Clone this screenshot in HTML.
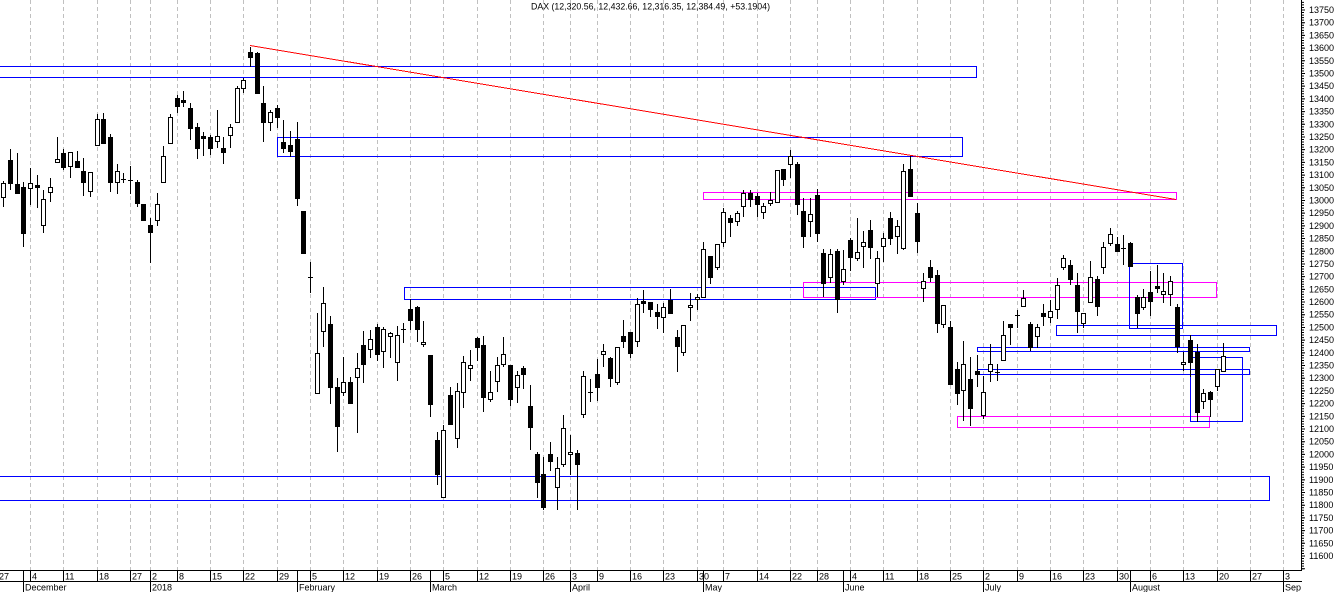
<!DOCTYPE html>
<html><head><meta charset="utf-8"><style>
html,body{margin:0;padding:0;background:#fff;}
svg{display:block;}
text{font-family:"Liberation Sans",Arial,sans-serif;font-size:9px;fill:#000;}
</style></head><body>
<svg width="1336" height="592" viewBox="0 0 1336 592" xmlns="http://www.w3.org/2000/svg">
<rect x="0" y="0" width="1336" height="592" fill="#fff"/>
<!-- gridlines -->
<path d="M30.5 0V570M63.5 0V570M97.5 0V570M130.5 0V570M150.5 0V570M177.5 0V570M210.5 0V570M243.5 0V570M277.5 0V570M310.5 0V570M343.5 0V570M377.5 0V570M410.5 0V570M443.5 0V570M477.5 0V570M510.5 0V570M543.5 0V570M570.5 0V570M597.5 0V570M630.5 0V570M663.5 0V570M697.5 0V570M723.5 0V570M757.5 0V570M790.5 0V570M817.5 0V570M850.5 0V570M883.5 0V570M917.5 0V570M950.5 0V570M983.5 0V570M1017.5 0V570M1050.5 0V570M1083.5 0V570M1117.5 0V570M1150.5 0V570M1183.5 0V570M1217.5 0V570M1250.5 0V570M1283.5 0V570" stroke="#c0c0c0" stroke-width="1" stroke-dasharray="4 3" fill="none"/>
<!-- title -->
<text x="531" y="9.5" textLength="239" lengthAdjust="spacingAndGlyphs">DAX (12,320.56, 12,432.66, 12,316.35, 12,384.49, +53.1904)</text>
<!-- rectangles -->
<g fill="none" stroke-width="1" shape-rendering="crispEdges">
<rect x="-5" y="66.5" width="981.5" height="11" stroke="#0000ff"/>
<rect x="277.5" y="137.5" width="685" height="19" stroke="#0000ff"/>
<rect x="703.5" y="192.5" width="473" height="7" stroke="#ff00ff"/>
<rect x="404.5" y="287.5" width="471" height="12" stroke="#0000ff"/>
<rect x="803.5" y="282.5" width="413" height="15" stroke="#ff00ff"/>
<rect x="1129.5" y="263.5" width="53" height="65" stroke="#0000ff"/>
<rect x="1056.5" y="325.5" width="220" height="10" stroke="#0000ff"/>
<rect x="977.5" y="347.5" width="272" height="4" stroke="#0000ff"/>
<rect x="977.5" y="369.5" width="272" height="5" stroke="#0000ff"/>
<rect x="957.5" y="416.5" width="252" height="11" stroke="#ff00ff"/>
<rect x="1190.5" y="357.5" width="52" height="64" stroke="#0000ff"/>
<rect x="-5" y="476.5" width="1274.5" height="24" stroke="#0000ff"/>
</g>
<!-- wicks -->
<path shape-rendering="crispEdges" stroke="#000" stroke-width="1" fill="none" d="M3.5 181V207M10.5 149V190M17.5 153V193M23.5 182V247M30.5 168V205M37.5 175V208M43.5 190V233M50.5 178V202M57.5 137V163M63.5 149V170M70.5 152V178M77.5 151V168M83.5 158V196M90.5 172V197M97.5 114V145M103.5 113V143M110.5 134V192M117.5 164V194M123.5 173V183M130.5 166V194M137.5 180V207M143.5 204V221M150.5 218V263M157.5 193V226M163.5 146V182M170.5 114V143M177.5 95V113M183.5 91V107M190.5 103V140M197.5 123V159M203.5 132V156M210.5 135V155M217.5 110V148M223.5 137V164M230.5 124V148M237.5 86V122M243.5 78V93M250.5 47V67M257.5 52V93M263.5 86V142M270.5 110V131M277.5 105V128M283.5 120V153M290.5 131V157M297.5 122V206M303.5 211V253M310.5 262V293M317.5 313V393M323.5 287V347M330.5 316V404M337.5 378V452M343.5 357V396M350.5 377V403M357.5 353V433M363.5 331V383M370.5 330V358M377.5 324V361M383.5 327V368M390.5 332V358M397.5 326V381M403.5 323V343M410.5 299V330M417.5 306V342M423.5 321V347M430.5 355V417M437.5 432V485M443.5 425V497M450.5 387V424M457.5 383V448M463.5 356V408M470.5 350V381M477.5 337V361M483.5 336V412M490.5 371V402M497.5 357V392M503.5 337V367M510.5 365V406M517.5 371V403M523.5 366V389M530.5 385V450M537.5 452V498M543.5 457V510M550.5 442V471M557.5 457V510M563.5 415V467M570.5 435V475M577.5 450V510M583.5 371V418M590.5 379V402M597.5 359V401M603.5 344V367M610.5 357V387M617.5 347V385M623.5 320V348M630.5 332V358M637.5 298V347M643.5 290V313M650.5 302V317M657.5 304V329M663.5 303V333M670.5 289V313M677.5 330V372M683.5 325V356M690.5 293V321M697.5 294V310M703.5 242V297M710.5 256V284M717.5 244V270M723.5 208V247M730.5 215V237M737.5 211V226M743.5 190V217M750.5 190V207M757.5 193V217M763.5 203V219M770.5 192V206M777.5 170V202M783.5 169V186M790.5 150V178M797.5 162V215M803.5 198V248M810.5 198V237M817.5 189V242M823.5 249V297M830.5 249V283M837.5 249V313M843.5 250V285M850.5 238V271M857.5 218V261M863.5 231V268M870.5 220V259M877.5 251V297M883.5 233V262M890.5 212V245M897.5 220V254M903.5 164V250M910.5 155V196M917.5 203V253M923.5 273V302M930.5 260V282M937.5 270V333M943.5 305V328M950.5 321V384M957.5 362V405M963.5 341V421M970.5 357V426M977.5 355V387M983.5 376V419M990.5 344V382M997.5 364V381M1003.5 321V360M1010.5 324V345M1017.5 310V328M1023.5 290V306M1030.5 322V351M1037.5 324V348M1043.5 304V326M1050.5 300V323M1057.5 278V319M1063.5 255V270M1070.5 260V285M1077.5 273V333M1083.5 313V328M1090.5 261V303M1097.5 276V316M1103.5 242V274M1110.5 228V246M1117.5 237V251M1123.5 235V265M1130.5 242V266M1137.5 295V328M1143.5 289V310M1150.5 271V316M1157.5 265V293M1163.5 273V303M1170.5 276V306M1177.5 304V353M1183.5 352V371M1190.5 335V377M1197.5 344V422M1203.5 389V409M1210.5 391V417M1217.5 369V391M1223.5 343V372"/>
<!-- white bodies -->
<path shape-rendering="crispEdges" stroke="#000" stroke-width="1" fill="#fff" d="M1.5 183.5h4v14h-4zM28.5 183.5h4v5h-4zM41.5 199.5h4v26h-4zM48.5 187.5h4v5h-4zM55.5 159.5h4v3h-4zM68.5 152.5h4v14h-4zM88.5 172.5h4v19h-4zM95.5 119.5h4v26h-4zM115.5 171.5h4v11h-4zM155.5 204.5h4v16h-4zM161.5 156.5h4v26h-4zM168.5 117.5h4v26h-4zM215.5 136.5h4v5h-4zM228.5 127.5h4v8h-4zM235.5 88.5h4v34h-4zM241.5 80.5h4v8h-4zM268.5 112.5h4v10h-4zM315.5 353.5h4v40h-4zM321.5 303.5h4v28h-4zM341.5 382.5h4v10h-4zM355.5 368.5h4v9h-4zM368.5 339.5h4v10h-4zM381.5 329.5h4v22h-4zM388.5 333.5h4v3h-4zM395.5 335.5h4v27h-4zM421.5 342.5h4v2h-4zM441.5 430.5h4v67h-4zM455.5 391.5h4v47h-4zM461.5 362.5h4v30h-4zM468.5 365.5h4v3h-4zM488.5 392.5h4v7h-4zM495.5 365.5h4v16h-4zM501.5 354.5h4v10h-4zM515.5 375.5h4v12h-4zM555.5 468.5h4v19h-4zM561.5 428.5h4v36h-4zM568.5 452.5h4v2h-4zM581.5 376.5h4v38h-4zM601.5 351.5h4v3h-4zM615.5 347.5h4v35h-4zM635.5 304.5h4v37h-4zM661.5 307.5h4v10h-4zM681.5 325.5h4v27h-4zM688.5 305.5h4v2h-4zM695.5 297.5h4v2h-4zM701.5 249.5h4v48h-4zM715.5 244.5h4v23h-4zM721.5 212.5h4v30h-4zM735.5 213.5h4v8h-4zM741.5 193.5h4v13h-4zM761.5 206.5h4v6h-4zM768.5 200.5h4v3h-4zM775.5 170.5h4v32h-4zM788.5 156.5h4v8h-4zM808.5 214.5h4v7h-4zM828.5 254.5h4v23h-4zM841.5 269.5h4v12h-4zM855.5 252.5h4v6h-4zM861.5 242.5h4v4h-4zM875.5 258.5h4v25h-4zM881.5 238.5h4v8h-4zM895.5 226.5h4v10h-4zM901.5 171.5h4v77h-4zM921.5 281.5h4v7h-4zM941.5 305.5h4v19h-4zM961.5 364.5h4v26h-4zM981.5 392.5h4v23h-4zM988.5 364.5h4v7h-4zM1001.5 335.5h4v25h-4zM1021.5 298.5h4v8h-4zM1035.5 327.5h4v9h-4zM1048.5 311.5h4v6h-4zM1055.5 285.5h4v24h-4zM1061.5 258.5h4v9h-4zM1081.5 313.5h4v10h-4zM1088.5 277.5h4v25h-4zM1101.5 247.5h4v20h-4zM1108.5 234.5h4v9h-4zM1141.5 297.5h4v10h-4zM1161.5 291.5h4v3h-4zM1168.5 281.5h4v13h-4zM1181.5 362.5h4v2h-4zM1201.5 393.5h4v8h-4zM1215.5 369.5h4v17h-4zM1221.5 356.5h4v15h-4z"/>
<!-- black bodies -->
<path shape-rendering="crispEdges" stroke="#000" stroke-width="1" fill="#000" d="M8.5 160.5h4v23h-4zM15.5 184.5h4v9h-4zM21.5 187.5h4v46h-4zM35.5 185.5h4v2h-4zM61.5 153.5h4v14h-4zM75.5 161.5h4v6h-4zM81.5 171.5h4v11h-4zM101.5 119.5h4v24h-4zM108.5 137.5h4v45h-4zM135.5 182.5h4v21h-4zM141.5 204.5h4v16h-4zM148.5 225.5h4v7h-4zM175.5 98.5h4v8h-4zM181.5 100.5h4v2h-4zM188.5 108.5h4v20h-4zM195.5 127.5h4v21h-4zM201.5 136.5h4v2h-4zM208.5 137.5h4v11h-4zM221.5 148.5h4v4h-4zM248.5 52.5h4v5h-4zM255.5 53.5h4v40h-4zM261.5 103.5h4v19h-4zM275.5 108.5h4v9h-4zM281.5 142.5h4v6h-4zM288.5 145.5h4v6h-4zM295.5 139.5h4v59h-4zM301.5 211.5h4v42h-4zM328.5 324.5h4v63h-4zM335.5 387.5h4v39h-4zM348.5 382.5h4v21h-4zM361.5 345.5h4v19h-4zM375.5 327.5h4v27h-4zM408.5 309.5h4v11h-4zM415.5 307.5h4v22h-4zM428.5 355.5h4v49h-4zM435.5 440.5h4v34h-4zM448.5 395.5h4v29h-4zM475.5 338.5h4v9h-4zM481.5 345.5h4v52h-4zM508.5 365.5h4v34h-4zM521.5 368.5h4v6h-4zM528.5 406.5h4v21h-4zM535.5 454.5h4v28h-4zM541.5 474.5h4v33h-4zM548.5 454.5h4v7h-4zM575.5 453.5h4v11h-4zM595.5 374.5h4v13h-4zM608.5 358.5h4v20h-4zM621.5 336.5h4v5h-4zM628.5 332.5h4v21h-4zM641.5 301.5h4v2h-4zM648.5 302.5h4v7h-4zM655.5 312.5h4v4h-4zM668.5 300.5h4v13h-4zM675.5 337.5h4v9h-4zM708.5 256.5h4v21h-4zM728.5 218.5h4v4h-4zM748.5 193.5h4v6h-4zM755.5 196.5h4v8h-4zM781.5 169.5h4v10h-4zM795.5 164.5h4v40h-4zM801.5 211.5h4v25h-4zM815.5 195.5h4v38h-4zM821.5 253.5h4v30h-4zM835.5 251.5h4v48h-4zM848.5 240.5h4v17h-4zM868.5 230.5h4v17h-4zM888.5 218.5h4v20h-4zM908.5 169.5h4v27h-4zM915.5 213.5h4v28h-4zM928.5 267.5h4v10h-4zM935.5 275.5h4v48h-4zM948.5 327.5h4v57h-4zM955.5 369.5h4v24h-4zM968.5 379.5h4v29h-4zM975.5 371.5h4v3h-4zM1008.5 324.5h4v3h-4zM1028.5 324.5h4v23h-4zM1041.5 313.5h4v3h-4zM1068.5 265.5h4v14h-4zM1075.5 285.5h4v26h-4zM1095.5 279.5h4v27h-4zM1115.5 244.5h4v7h-4zM1128.5 243.5h4v23h-4zM1135.5 297.5h4v16h-4zM1148.5 292.5h4v9h-4zM1155.5 286.5h4v2h-4zM1175.5 307.5h4v39h-4zM1188.5 340.5h4v22h-4zM1195.5 352.5h4v60h-4zM1208.5 392.5h4v7h-4z"/>
<!-- crosses -->
<path shape-rendering="crispEdges" stroke="#000" stroke-width="1" fill="none" d="M121 179.5h5M128 180.5h5M308 277.5h5M401 329.5h5M588 392.5h5M995 372.5h5M1015 315.5h5M1121 248.5h5"/>
<!-- red trendline -->
<line x1="250" y1="45.5" x2="1176" y2="199.5" stroke="#ff0000" stroke-width="1" shape-rendering="crispEdges"/>
<!-- y axis -->
<line x1="1301.5" y1="0" x2="1301.5" y2="571" stroke="#000" stroke-width="1"/>
<line x1="1303" y1="1.88" x2="1303" y2="570" stroke="#000" stroke-width="2" stroke-dasharray="1 1.53953"/>
<line x1="1303.5" y1="9.5" x2="1303.5" y2="570" stroke="#000" stroke-width="3" stroke-dasharray="1 11.69765"/>
<g>
<text x="1309" y="13">13750</text>
<text x="1309" y="25.7">13700</text>
<text x="1309" y="38.4">13650</text>
<text x="1309" y="51.1">13600</text>
<text x="1309" y="63.8">13550</text>
<text x="1309" y="76.5">13500</text>
<text x="1309" y="89.2">13450</text>
<text x="1309" y="101.9">13400</text>
<text x="1309" y="114.6">13350</text>
<text x="1309" y="127.3">13300</text>
<text x="1309" y="140">13250</text>
<text x="1309" y="152.7">13200</text>
<text x="1309" y="165.4">13150</text>
<text x="1309" y="178.1">13100</text>
<text x="1309" y="190.8">13050</text>
<text x="1309" y="203.5">13000</text>
<text x="1309" y="216.2">12950</text>
<text x="1309" y="228.9">12900</text>
<text x="1309" y="241.6">12850</text>
<text x="1309" y="254.3">12800</text>
<text x="1309" y="267">12750</text>
<text x="1309" y="279.7">12700</text>
<text x="1309" y="292.4">12650</text>
<text x="1309" y="305.1">12600</text>
<text x="1309" y="317.7">12550</text>
<text x="1309" y="330.4">12500</text>
<text x="1309" y="343.1">12450</text>
<text x="1309" y="355.8">12400</text>
<text x="1309" y="368.5">12350</text>
<text x="1309" y="381.2">12300</text>
<text x="1309" y="393.9">12250</text>
<text x="1309" y="406.6">12200</text>
<text x="1309" y="419.3">12150</text>
<text x="1309" y="432">12100</text>
<text x="1309" y="444.7">12050</text>
<text x="1309" y="457.4">12000</text>
<text x="1309" y="470.1">11950</text>
<text x="1309" y="482.8">11900</text>
<text x="1309" y="495.5">11850</text>
<text x="1309" y="508.2">11800</text>
<text x="1309" y="520.9">11750</text>
<text x="1309" y="533.6">11700</text>
<text x="1309" y="546.3">11650</text>
<text x="1309" y="559">11600</text>
</g>
<!-- x axis -->
<path shape-rendering="crispEdges" stroke="#000" stroke-width="1" fill="none" d="M0 570.5H1302M0 581.5H1302M30.5 571V581M63.5 571V581M97.5 571V581M130.5 571V581M177.5 571V581M210.5 571V581M243.5 571V581M277.5 571V581M310.5 571V581M343.5 571V581M377.5 571V581M410.5 571V581M443.5 571V581M477.5 571V581M510.5 571V581M543.5 571V581M597.5 571V581M630.5 571V581M663.5 571V581M697.5 571V581M723.5 571V581M757.5 571V581M790.5 571V581M817.5 571V581M850.5 571V581M883.5 571V581M917.5 571V581M950.5 571V581M1017.5 571V581M1050.5 571V581M1083.5 571V581M1117.5 571V581M1150.5 571V581M1183.5 571V581M1217.5 571V581M1250.5 571V581M23.5 571V592M150.5 571V592M297.5 571V592M430.5 571V592M570.5 571V592M703.5 571V592M843.5 571V592M983.5 571V592M1130.5 571V592M1283.5 571V592"/>
<g>
<text x="-1" y="579.5">27</text>
<text x="32" y="579.5">4</text>
<text x="65" y="579.5">11</text>
<text x="99" y="579.5">18</text>
<text x="132" y="579.5">27</text>
<text x="152" y="579.5">2</text>
<text x="179" y="579.5">8</text>
<text x="212" y="579.5">15</text>
<text x="245" y="579.5">22</text>
<text x="279" y="579.5">29</text>
<text x="312" y="579.5">5</text>
<text x="345" y="579.5">12</text>
<text x="379" y="579.5">19</text>
<text x="412" y="579.5">26</text>
<text x="445" y="579.5">5</text>
<text x="479" y="579.5">12</text>
<text x="512" y="579.5">19</text>
<text x="545" y="579.5">26</text>
<text x="572" y="579.5">3</text>
<text x="599" y="579.5">9</text>
<text x="632" y="579.5">16</text>
<text x="665" y="579.5">23</text>
<text x="699" y="579.5">30</text>
<text x="725" y="579.5">7</text>
<text x="759" y="579.5">14</text>
<text x="792" y="579.5">22</text>
<text x="819" y="579.5">28</text>
<text x="852" y="579.5">4</text>
<text x="885" y="579.5">11</text>
<text x="919" y="579.5">18</text>
<text x="952" y="579.5">25</text>
<text x="985" y="579.5">2</text>
<text x="1019" y="579.5">9</text>
<text x="1052" y="579.5">16</text>
<text x="1085" y="579.5">23</text>
<text x="1119" y="579.5">30</text>
<text x="1152" y="579.5">6</text>
<text x="1185" y="579.5">13</text>
<text x="1219" y="579.5">20</text>
<text x="1252" y="579.5">27</text>
<text x="1285" y="579.5">3</text>
<text x="25" y="590.5">December</text>
<text x="152" y="590.5">2018</text>
<text x="299" y="590.5">February</text>
<text x="432" y="590.5">March</text>
<text x="572" y="590.5">April</text>
<text x="705" y="590.5">May</text>
<text x="845" y="590.5">June</text>
<text x="985" y="590.5">July</text>
<text x="1132" y="590.5">August</text>
<text x="1285" y="590.5">Sep</text>
</g>
</svg>
</body></html>
